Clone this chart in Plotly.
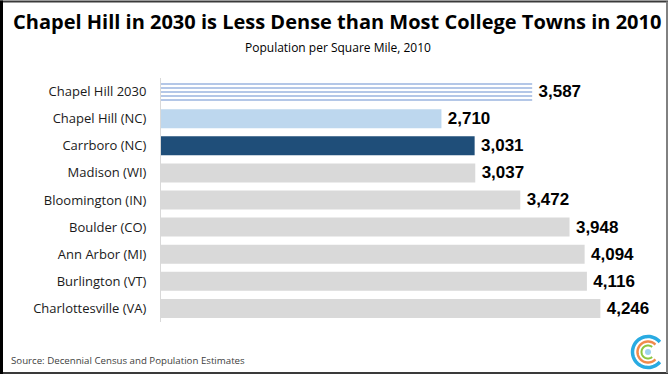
import plotly.graph_objects as go
import numpy as np

categories = ["Chapel Hill 2030", "Chapel Hill (NC)", "Carrboro (NC)", "Madison (WI)",
              "Bloomington (IN)", "Boulder (CO)", "Ann Arbor (MI)", "Burlington (VT)",
              "Charlottesville (VA)"]
density = [3587, 2710, 3031, 3037, 3472, 3948, 4094, 4116, 4246]
value_labels = ["3,587", "2,710", "3,031", "3,037", "3,472", "3,948", "4,094", "4,116", "4,246"]
bar_colors = ["#ffffff", "#bdd7ee", "#1f4e79", "#d9d9d9", "#d9d9d9", "#d9d9d9", "#d9d9d9", "#d9d9d9", "#d9d9d9"]
stripe_color = "#b4c7e7"

W, H = 670, 376
L, R, T, B = 161, 637, 78, 322
pw, ph = R - L, B - T

def px(x):
    return (x - L) / pw

def py(y):
    return (B - y) / ph

def fmt(t):
    return "<b>\u2009" + t + "</b>"

fig = go.Figure()
fig.add_trace(go.Bar(
    y=categories[1:], x=density[1:], orientation="h",
    marker=dict(color=bar_colors[1:], line=dict(width=0)),
    text=[fmt(t) for t in value_labels[1:]], textposition="outside", cliponaxis=False,
    textfont=dict(family="Liberation Sans, Arial", size=17, color="#000000"),
    hoverinfo="skip",
))
fig.add_trace(go.Bar(
    y=categories[:1], x=density[:1], orientation="h",
    marker=dict(color=bar_colors[0], line=dict(width=0),
                pattern=dict(shape="-", fgcolor=stripe_color, bgcolor="#ffffff",
                             size=4, solidity=0.5, fillmode="overlay", fgopacity=1)),
    text=[fmt(value_labels[0])], textposition="outside", cliponaxis=False,
    textfont=dict(family="Liberation Sans, Arial", size=17, color="#000000"),
    hoverinfo="skip",
))

shapes = []
shapes.append(dict(type="rect", xref="paper", yref="paper",
                   x0=px(1), x1=px(667), y0=py(373), y1=py(1.5),
                   line=dict(color="#3a3a3a", width=2), fillcolor="rgba(0,0,0,0)", layer="above"))
shapes.append(dict(type="line", xref="paper", yref="paper",
                   x0=px(1.5), x1=px(1.5), y0=py(374), y1=py(0.5),
                   line=dict(color="#000000", width=3)))
shapes.append(dict(type="line", xref="paper", yref="paper",
                   x0=px(667), x1=px(667), y0=py(373), y1=py(1.5),
                   line=dict(color="#9a9a9a", width=1.5)))

cx, cy = 648, 352
def arc_path(r, a0, a1, n=40):
    t = np.linspace(np.radians(a0), np.radians(a1), n)
    pts = [(px(cx + r * np.cos(a)), py(cy - r * np.sin(a))) for a in t]
    return "M " + " L ".join(f"{x:.5f},{y:.5f}" for x, y in pts)

shapes.append(dict(type="path", xref="paper", yref="paper", path=arc_path(15.5, 40, 320),
                   line=dict(color="#29abe2", width=3.5)))
shapes.append(dict(type="path", xref="paper", yref="paper", path=arc_path(10.5, 45, 315),
                   line=dict(color="#f08a4b", width=2.5)))
shapes.append(dict(type="path", xref="paper", yref="paper", path=arc_path(6.5, 50, 310),
                   line=dict(color="#8cc63f", width=2)))
shapes.append(dict(type="circle", xref="paper", yref="paper",
                   x0=px(cx - 3), x1=px(cx + 3), y0=py(cy + 3), y1=py(cy - 3),
                   line=dict(width=0), fillcolor="#9fd3f0"))

annotations = [
    dict(text="<b>Chapel Hill in 2030 is Less Dense than Most College Towns in 2010</b>",
         xref="paper", yref="paper", x=px(337), y=py(22), xanchor="center", yanchor="middle",
         showarrow=False, font=dict(family="Open Sans", size=20, color="#000000")),
    dict(text="Population per Square Mile, 2010",
         xref="paper", yref="paper", x=px(338), y=py(48), xanchor="center", yanchor="middle",
         showarrow=False, font=dict(family="Open Sans", size=12, color="#000000")),
    dict(text="Source: Decennial Census and Population Estimates",
         xref="paper", yref="paper", x=px(9), y=py(360), xanchor="left", yanchor="middle",
         showarrow=False, font=dict(family="Open Sans", size=9.7, color="#404040")),
]

fig.update_layout(
    width=W, height=H,
    margin=dict(l=L, r=W - R, t=T, b=H - B, pad=0),
    paper_bgcolor="#ffffff", plot_bgcolor="#ffffff",
    showlegend=False, barmode="overlay", bargap=0.3,
    shapes=shapes, annotations=annotations,
    xaxis=dict(range=[0, 4600], showgrid=False, zeroline=False, showticklabels=False,
               showline=False, ticks=""),
    yaxis=dict(categoryorder="array", categoryarray=categories, autorange="reversed",
               showgrid=False, zeroline=False,
               showline=True, linecolor="#d9d9d9", linewidth=1, ticks="outside",
               ticklen=11, tickcolor="rgba(0,0,0,0)",
               tickfont=dict(family="Open Sans", size=13, color="#1a1a1a")),
)

fig.write_html("out.html", config={"displayModeBar": False},
               post_script="document.body.style.margin='0';document.body.style.overflow='hidden';")
